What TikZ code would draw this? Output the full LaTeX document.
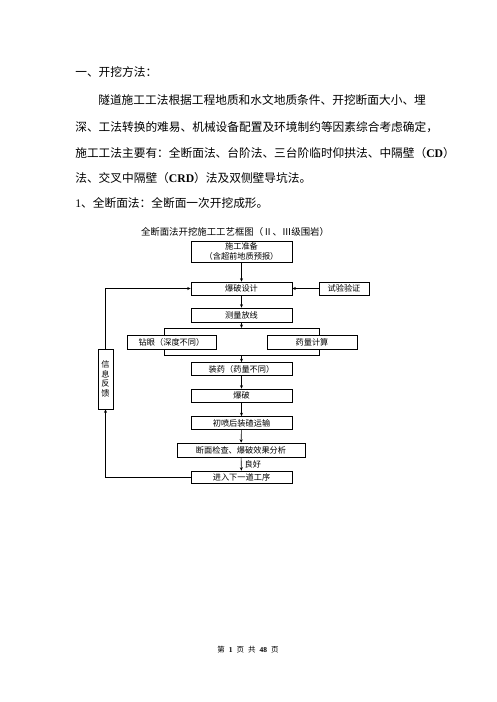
\documentclass[tikz,border=0pt]{standalone}
\usepackage{fontspec}
\setmainfont{Noto Sans CJK SC}
\newfontfamily\latinfont{Liberation Serif}
\usepackage{tikz}
\usetikzlibrary{arrows.meta, shadows}

\tikzset{
    >={Stealth[length=3.5pt, width=3pt]},
    bodytext/.style={anchor=west, inner sep=0pt, font=\fontsize{11.7}{13}\selectfont},
    flowbox/.style={draw, fill=white, inner sep=0pt, line width=0.6pt,
        minimum width=101pt, minimum height=13pt, font=\fontsize{8.2}{9.5}\selectfont,
        drop shadow={shadow xshift=0.7pt, shadow yshift=-0.7pt, fill=black, opacity=1}},
}
\newcommand{\gap}{\hspace{4pt}}

\begin{document}
\begin{tikzpicture}[x=1pt, y=-1pt, line width=0.6pt]
    \useasboundingbox (0,0) rectangle (496,702);

    % body text
    \node[bodytext] (head) at (75,72) {一、开挖方法：};
    \node[bodytext] (para1) at (98,100) {隧道施工工法根据工程地质和水文地质条件、开挖断面大小、埋};
    \node[bodytext] (para2) at (75,127) {深、工法转换的难易、机械设备配置及环境制约等因素综合考虑确定，};
    \node[bodytext] (para3) at (75,153) {施工工法主要有：全断面法、台阶法、三台阶临时仰拱法、中隔壁（{\latinfont\bfseries CD}）};
    \node[bodytext] (para4) at (75,178) {法、交叉中隔壁（{\latinfont\bfseries CRD}）法及双侧壁导坑法。};
    \node[bodytext] (sub1) at (75,203) {{\latinfont 1}、全断面法：全断面一次开挖成形。};

    % flow chart
    \node[inner sep=0pt, font=\fontsize{9.4}{11}\selectfont] (title) at (235,232) {全断面法开挖施工工艺框图（Ⅱ、Ⅲ级围岩）};

    \node[flowbox, minimum height=21pt, align=center] (prep) at (241.5,251.5) {施工准备\\（含超前地质预报）};
    \node[flowbox] (design) at (241.5,288.5) {爆破设计};
    \node[flowbox, minimum width=50pt] (test) at (344,288.5) {试验验证};
    \node[flowbox, minimum height=14pt] (survey) at (241.5,315) {测量放线};

    \coordinate (forktop) at (241.5,328);
    \coordinate (forkbot) at (241.5,355.5);
    \draw (164,328) rectangle (319,355.5);

    \node[flowbox, minimum width=89pt, minimum height=14pt] (drill) at (171.5,342) {钻眼（深度不同）};
    \node[flowbox, minimum width=90pt, minimum height=14pt] (dose) at (312,342) {药量计算};

    \node[flowbox] (load) at (241.5,369) {装药（药量不同）};
    \node[flowbox] (blast) at (241.5,395.5) {爆破};
    \node[flowbox] (muck) at (241.5,423) {初喷后装碴运输};
    \node[flowbox, minimum width=128pt, minimum height=14pt] (check) at (241,450) {断面检查、爆破效果分析};
    \node[flowbox, minimum height=12pt] (next) at (241.5,477) {进入下一道工序};
    \node[flowbox, minimum width=15pt, minimum height=60pt, align=center] (fb) at (105.5,379) {信\\息\\反\\馈};

    \draw[->] (prep) -- (design);
    \draw[->] (test) -- (design);
    \draw[->] (design) -- (survey);
    \draw[->] (survey) -- (forktop);
    \draw[->] (forkbot) -- (load);
    \draw[->] (load) -- (blast);
    \draw[->] (blast) -- (muck);
    \draw[->] (muck) -- (check);
    \draw[->] (check) -- (next) node[midway, right, inner sep=3pt, font=\fontsize{8.2}{10}\selectfont] {良好};
    \draw[->] (next.west) -| (fb.south);
    \draw[->] (fb.north) |- (design.west);

    % page footer
    \node[inner sep=0pt, font=\fontsize{7.5}{9}\selectfont] (footer) at (248,650) {第\gap{\latinfont\bfseries 1}\gap 页\gap 共\gap{\latinfont\bfseries 48}\gap 页};
\end{tikzpicture}
\end{document}
